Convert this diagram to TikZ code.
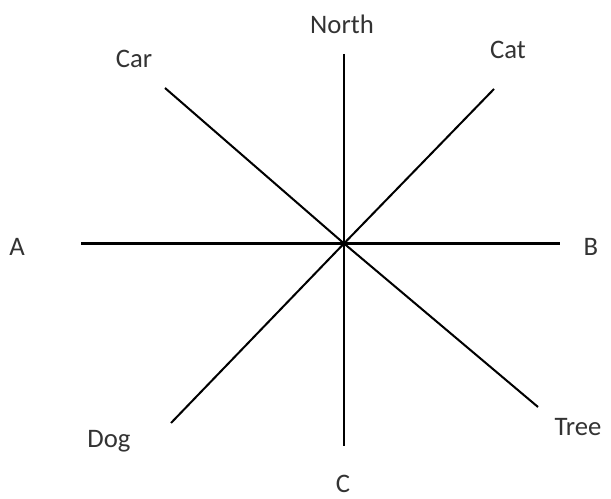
\documentclass[tikz,border=0pt]{standalone}
\usepackage{fontspec}
\setmainfont{Carlito}
\usepackage{tikz}

\tikzset{
  compass/.style={anchor=base,inner sep=0pt,font=\fontsize{15.2}{17}\selectfont,text=black!80},
  spoke/.style={line width=1.15pt,black}
}

\begin{document}
\begin{tikzpicture}[x=0.02cm,y=-0.02cm]
\path[use as bounding box] (0,0) rectangle (611,499);
\coordinate (o) at (344,243.5);
\coordinate (nEnd) at (344,54);
\coordinate (sEnd) at (344,446);
\coordinate (aEnd) at (81,243.5);
\coordinate (bEnd) at (560,243.5);
\coordinate (carEnd) at (165,88);
\coordinate (catEnd) at (494,89);
\coordinate (dogEnd) at (171,423);
\coordinate (treeEnd) at (538,407);
\node[compass] (north) at (342,34) {North};
\node[compass] (car) at (134,68) {Car};
\node[compass] (cat) at (508,59) {Cat};
\node[compass] (a) at (17,256) {A};
\node[compass] (b) at (591,256) {B};
\node[compass] (dog) at (109,447) {Dog};
\node[compass] (c) at (343,492) {C};
\node[compass] (tree) at (578,435) {Tree};
\draw[spoke] (nEnd) -- (sEnd);
\draw[spoke] (aEnd) -- (bEnd);
\draw[spoke] (carEnd) -- (o) -- (treeEnd);
\draw[spoke] (catEnd) -- (o) -- (dogEnd);
\end{tikzpicture}
\end{document}
